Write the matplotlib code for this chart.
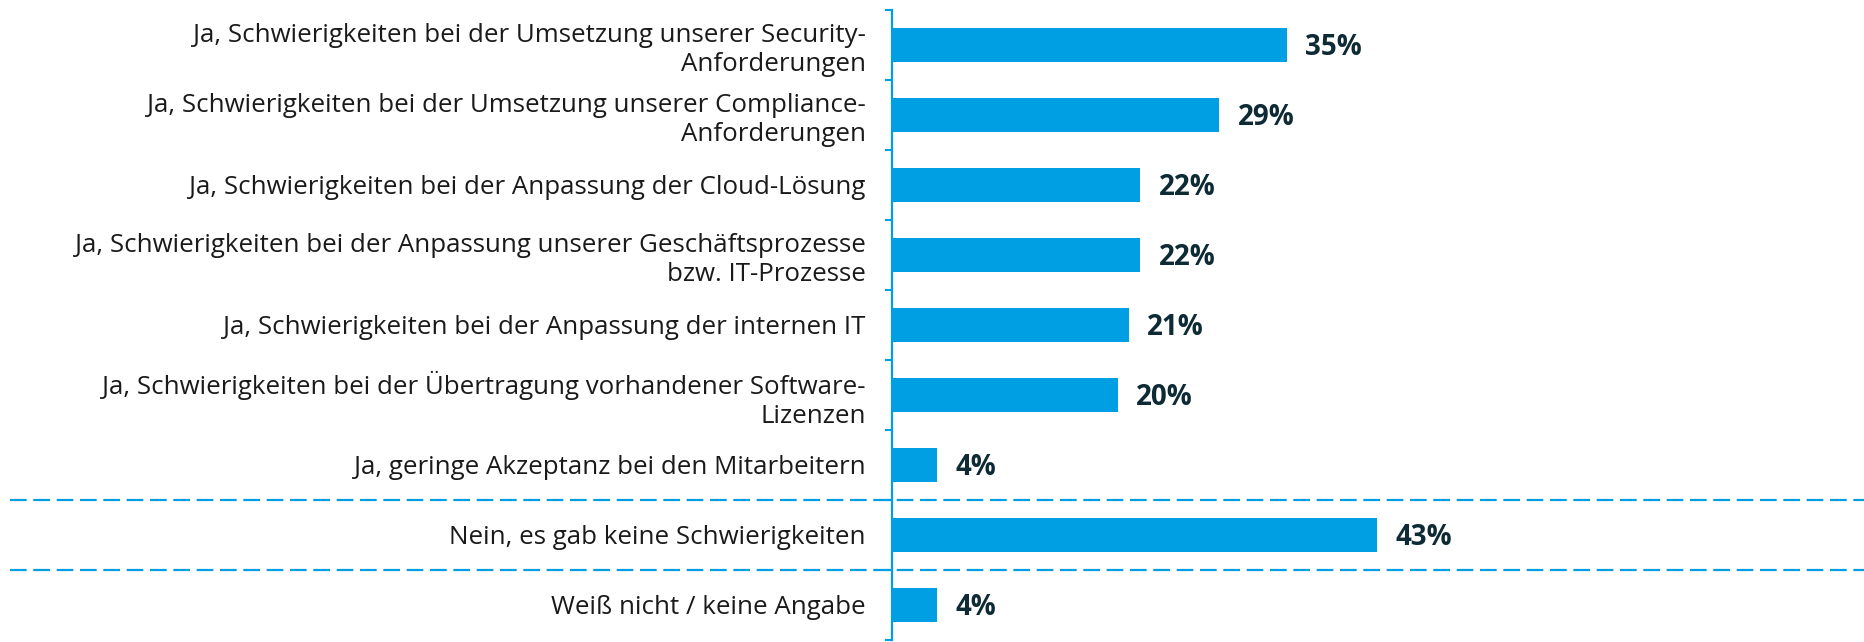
import matplotlib
matplotlib.use("Agg")
import matplotlib.pyplot as plt

categories = [
    "Ja, Schwierigkeiten bei der Umsetzung unserer Security-\nAnforderungen",
    "Ja, Schwierigkeiten bei der Umsetzung unserer Compliance-\nAnforderungen",
    "Ja, Schwierigkeiten bei der Anpassung der Cloud-Lösung",
    "Ja, Schwierigkeiten bei der Anpassung unserer Geschäftsprozesse\nbzw. IT-Prozesse",
    "Ja, Schwierigkeiten bei der Anpassung der internen IT",
    "Ja, Schwierigkeiten bei der Übertragung vorhandener Software-\nLizenzen",
    "Ja, geringe Akzeptanz bei den Mitarbeitern",
    "Nein, es gab keine Schwierigkeiten",
    "Weiß nicht / keine Angabe",
]
values = [35, 29, 22, 22, 21, 20, 4, 43, 4]
value_labels = ["35%", "29%", "22%", "22%", "21%", "20%", "4%", "43%", "4%"]
separators_after = [6, 7]  # dashed line after these category indices

BLUE = "#009FE3"
LABEL_COLOR = "#1a1a1a"
VALUE_COLOR = "#0d2a35"

plt.rcParams['font.family'] = ['Open Sans', 'DejaVu Sans']
plt.rcParams['lines.scale_dashes'] = False

W, H = 1865, 642
fig = plt.figure(figsize=(W / 100, H / 100), dpi=100)
ax_left = 892 / W
ax_bottom = 2 / H
ax_top = 10 / H
ax = fig.add_axes([ax_left, ax_bottom, 1 - ax_left, 1 - ax_bottom - ax_top])

pos = list(range(len(categories)))
ax.barh(pos, values, height=0.486, color=BLUE, zorder=2)

ax.set_ylim(len(categories) - 0.5, -0.5)
px_per_unit = 11.29
ax.set_xlim(0, (W - 892) / px_per_unit)

for i, (v, lab) in enumerate(zip(values, value_labels)):
    ax.annotate(lab, xy=(v, i), xytext=(13, -2), textcoords="offset points",
                ha="left", va="center", fontsize=20, fontweight="bold",
                color=VALUE_COLOR)

ax.set_yticks(pos)
ax.set_yticklabels(categories, fontsize=18.6, color=LABEL_COLOR,
                   multialignment="right")
ax.tick_params(axis="y", which="major", length=0, pad=19)
ax.set_yticks([p - 0.5 for p in pos] + [len(categories) - 0.5], minor=True)
ax.tick_params(axis="y", which="minor", length=5, width=1.5, color=BLUE,
               direction="out")

ax.set_xticks([])
for s in ["top", "right", "bottom"]:
    ax.spines[s].set_visible(False)
ax.spines["left"].set_color(BLUE)
ax.spines["left"].set_linewidth(1.6)

xmin_frac = (10 - 892) / (W - 892)
for idx in separators_after:
    ax.axhline(idx + 0.5, xmin=xmin_frac, xmax=1, color=BLUE, lw=1.6,
               dashes=(12, 4.8), clip_on=False, zorder=1)

fig.savefig("out.png", dpi=100)
